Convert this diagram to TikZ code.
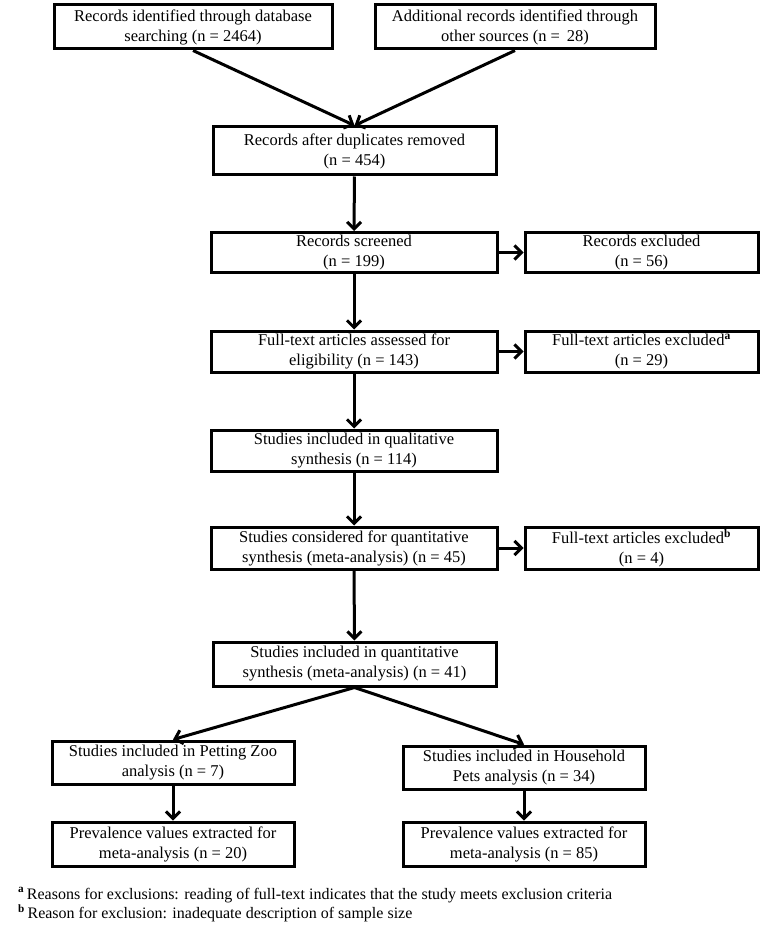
\documentclass[tikz,border=0pt]{standalone}
\usepackage{fontspec}
\setmainfont{Liberation Serif}
\usepackage{tikz}
\usetikzlibrary{arrows.meta}
\tikzset{>={Straight Barb[length=7pt,width=14pt]},
  box/.style args={#1/#2}{draw, line width=3pt, text width=#1pt, minimum height=#2pt,
    align=flush center, inner xsep=0pt, inner ysep=0pt, font=\fontsize{16.5}{20}\selectfont},
  link/.style={->, line width=3pt}}

\begin{document}
\begin{tikzpicture}[x=1pt,y=-1pt]
        \useasboundingbox (0,0) rectangle (772,936);
        \node[box=278/44] (search) at (193,27) {Records identified through database\\searching (n = 2464)};
        \node[box=280/44] (other) at (515,27) {Additional records identified through\\other sources (n = \,28)};
        \node[box=283/48] (dedup) at (354.5,151) {Records after duplicates removed\\(n = 454)};
        \node[box=286/40] (screen) at (354,252.5) {Records screened\\(n = 199)};
        \node[box=233/40] (exclrec) at (641.5,252.5) {Records excluded\\(n = 56)};
        \node[box=286/41] (fulltext) at (354,351.5) {Full-text articles assessed for\\eligibility (n = 143)};
        \node[box=233/41] (exclfull) at (641.5,351.5) {Full-text articles excluded\textsuperscript{\textbf{a}}\\(n = 29)};
        \node[box=286/41] (qual) at (354,450.5) {Studies included in qualitative\\synthesis (n = 114)};
        \node[box=286/42] (considered) at (354,548) {Studies considered for quantitative\\synthesis (meta-analysis) (n = 45)};
        \node[box=233/42] (exclmeta) at (641.5,548) {Full-text articles excluded\textsuperscript{\textbf{b}}\\(n = 4)};
        \node[box=283/44] (quant) at (354.5,664) {Studies included in quantitative\\synthesis (meta-analysis) (n = 41)};
        \node[box=242/43] (zoo) at (173,762.5) {Studies included in Petting Zoo\\analysis (n = 7)};
        \node[box=242/43] (pets) at (524,767.5) {Studies included in Household\\Pets analysis (n = 34)};
        \node[box=242/44] (prevzoo) at (173,844) {Prevalence values extracted for\\meta-analysis (n = 20)};
        \node[box=242/44] (prevpets) at (524,844) {Prevalence values extracted for\\meta-analysis (n = 85)};

        \draw[link] (search.south) -- (dedup.north);
        \draw[link] (other.south) -- (dedup.north);
        \draw[link] (dedup) -- (screen);
        \draw[link] (screen) -- (exclrec);
        \draw[link] (screen) -- (fulltext);
        \draw[link] (fulltext) -- (exclfull);
        \draw[link] (fulltext) -- (qual);
        \draw[link] (qual) -- (considered);
        \draw[link] (considered) -- (exclmeta);
        \draw[link] (considered) -- (quant);
        \draw[link] (quant.south) -- (zoo.north);
        \draw[link] (quant.south) -- (pets.north);
        \draw[link] (zoo) -- (prevzoo);
        \draw[link] (pets) -- (prevpets);

        \node[anchor=west, inner sep=0pt, font=\fontsize{16}{19}\selectfont] (notea) at (18,895)
          {\textsuperscript{\textbf{a}}\,Reasons for exclusions: reading of full-text indicates that the study meets exclusion criteria};
        \node[anchor=west, inner sep=0pt, font=\fontsize{16}{19}\selectfont] (noteb) at (18,913)
          {\textsuperscript{\textbf{b}}\,Reason for exclusion: inadequate description of sample size};
      \end{tikzpicture}
\end{document}
